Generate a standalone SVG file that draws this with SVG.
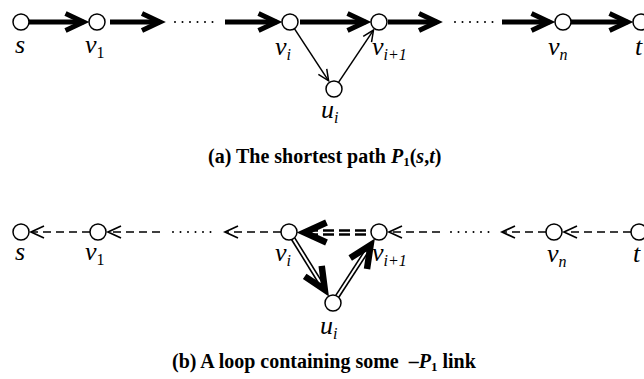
<svg xmlns="http://www.w3.org/2000/svg" width="644" height="379" viewBox="0 0 644 379">
<style>
.n{fill:#fff;stroke:#000;stroke-width:1.5}
.thk{stroke:#000;stroke-width:5;fill:none}
.thin{stroke:#000;stroke-width:1.5;fill:none}
.dsh{stroke:#000;stroke-width:1.7;stroke-dasharray:8 5;fill:none}
.dot{stroke:#000;stroke-width:2;stroke-linecap:round;stroke-dasharray:0 7.5;fill:none}
.dblB{stroke:#000;stroke-width:5.2;fill:none}
.dblD{stroke:#000;stroke-width:6.5;fill:none;stroke-dasharray:11 5;stroke-dashoffset:11}
.dblW{stroke:#fff;stroke-width:2;fill:none}
.dblW2{stroke:#fff;stroke-width:1.5;fill:none}
.lbl{font-family:"Liberation Serif","Times New Roman",serif;font-style:italic;font-size:26px}
.sub{font-size:16px}
.up{font-style:normal}
.cap{font-family:"Liberation Serif","Times New Roman",serif;font-weight:bold;font-size:20px;white-space:pre}
.it{font-style:italic}
</style>
<defs>
<marker id="mT" markerUnits="userSpaceOnUse" viewBox="-26 -14 32 28" markerWidth="32" markerHeight="28" refX="0" refY="0" orient="auto" overflow="visible">
<path d="M-18,-8.5 L0,0 L-18,8.5" fill="none" stroke="#000" stroke-width="5" stroke-dasharray="none"/>
</marker>
<marker id="mB" markerUnits="userSpaceOnUse" viewBox="-30 -16 40 32" markerWidth="40" markerHeight="32" refX="0" refY="0" orient="auto" overflow="visible">
<path d="M-22,-10 L0,0 L-22,10" fill="none" stroke="#000" stroke-width="6.5" stroke-dasharray="none"/>
</marker>
<marker id="mS" markerUnits="userSpaceOnUse" viewBox="-14 -8 18 16" markerWidth="18" markerHeight="16" refX="0" refY="0" orient="auto" overflow="visible">
<path d="M-11,-5 L0,0 L-11,5" fill="none" stroke="#000" stroke-width="1.5" stroke-dasharray="none"/>
</marker>
<marker id="mD" markerUnits="userSpaceOnUse" viewBox="-16 -9 20 18" markerWidth="20" markerHeight="18" refX="0" refY="0" orient="auto" overflow="visible">
<path d="M-13,-6 L0,0 L-13,6" fill="none" stroke="#000" stroke-width="1.7" stroke-dasharray="none"/>
</marker>
</defs>
<rect width="644" height="379" fill="#fff"/>

<g id="connectors">
<!-- (a) shortest path -->
<path class="thk" d="M29,22 H83.5" marker-end="url(#mT)"/>
<path class="thk" d="M110,22 H160" marker-end="url(#mT)"/>
<path class="dot" d="M175,22 H213"/>
<path class="thk" d="M225,22 H276.5" marker-end="url(#mT)"/>
<path class="thk" d="M300,22 H365.5" marker-end="url(#mT)"/>
<path class="thk" d="M388,22 H437" marker-end="url(#mT)"/>
<path class="dot" d="M455,22 H493"/>
<path class="thk" d="M502,22 H549.5" marker-end="url(#mT)"/>
<path class="thk" d="M571,22 H627.5" marker-end="url(#mT)"/>
<path class="thin" d="M294.4,28.7 L328.6,80.8" marker-end="url(#mS)"/>
<path class="thin" d="M338.5,82.4 L373.5,30.1" marker-end="url(#mS)"/>
<!-- (b) loop -->
<path class="dsh" d="M90,232 H31" marker-end="url(#mD)"/>
<path class="dsh" d="M160,232 H108" marker-end="url(#mD)"/>
<path class="dot" d="M173,232 H211"/>
<path class="dsh" d="M281,232 H225" marker-end="url(#mD)"/>
<path class="dblD" d="M371,232.5 H304.5"/>
<path class="dblW2" d="M371,232.5 H304.5" marker-end="url(#mB)"/>
<path class="dblB" d="M293.2,238.8 L324.8,289.8"/>
<path class="dblW" d="M293.2,238.8 L324.8,289.8" marker-end="url(#mB)"/>
<path class="dblB" d="M337.3,296.3 L370.6,245"/>
<path class="dblW" d="M337.3,296.3 L370.6,245" marker-end="url(#mB)"/>
<path class="dsh" d="M440,232 H389" marker-end="url(#mD)"/>
<path class="dot" d="M451,232 H489"/>
<path class="dsh" d="M546,232 H502" marker-end="url(#mD)"/>
<path class="dsh" d="M631,232 H564" marker-end="url(#mD)"/>
</g>

<!-- (a) nodes -->
<g id="a_s"><circle class="n" cx="21" cy="22" r="8"/><text class="lbl" x="15" y="53">s</text></g>
<g id="a_v1"><circle class="n" cx="97" cy="22" r="8"/><text class="lbl" x="85" y="53">v<tspan class="sub up" dy="5">1</tspan></text></g>
<g id="a_vi"><circle class="n" cx="290" cy="22" r="8"/><text class="lbl" x="275" y="55">v<tspan class="sub" dy="5">i</tspan></text></g>
<g id="a_vi1"><circle class="n" cx="379" cy="22" r="8"/><text class="lbl" x="372" y="55">v<tspan class="sub" dy="5">i+1</tspan></text></g>
<g id="a_ui"><circle class="n" cx="334" cy="89" r="8"/><text class="lbl" x="321" y="118">u<tspan class="sub" dy="5">i</tspan></text></g>
<g id="a_vn"><circle class="n" cx="563" cy="22" r="8"/><text class="lbl" x="548" y="55">v<tspan class="sub" dy="5">n</tspan></text></g>
<g id="a_t"><circle class="n" cx="641" cy="22" r="8"/><text class="lbl" x="635" y="55">t</text></g>

<!-- (b) nodes -->
<g id="b_s"><circle class="n" cx="21" cy="232" r="8"/><text class="lbl" x="15" y="260">s</text></g>
<g id="b_v1"><circle class="n" cx="98" cy="232" r="8"/><text class="lbl" x="85" y="260">v<tspan class="sub up" dy="5">1</tspan></text></g>
<g id="b_vi"><circle class="n" cx="289" cy="232" r="8"/><text class="lbl" x="275" y="261">v<tspan class="sub" dy="5">i</tspan></text></g>
<g id="b_vi1"><circle class="n" cx="379" cy="232" r="8"/><text class="lbl" x="372" y="261">v<tspan class="sub" dy="5">i+1</tspan></text></g>
<g id="b_ui"><circle class="n" cx="333" cy="303" r="8"/><text class="lbl" x="320" y="334">u<tspan class="sub" dy="5">i</tspan></text></g>
<g id="b_vn"><circle class="n" cx="554" cy="232" r="8"/><text class="lbl" x="547" y="262">v<tspan class="sub" dy="5">n</tspan></text></g>
<g id="b_t"><circle class="n" cx="639" cy="232" r="8"/><text class="lbl" x="633" y="262">t</text></g>

<g id="captions">
<text class="cap" x="208" y="163">(a) The shortest path <tspan class="it">P</tspan><tspan font-size="13" dy="3">1</tspan><tspan dy="-3">(</tspan><tspan class="it">s</tspan>,<tspan class="it">t</tspan>)</text>
<text class="cap" x="172" y="368">(b) A loop containing some  –<tspan class="it">P</tspan><tspan font-size="13" dy="3">1</tspan><tspan dy="-3"> link</tspan></text>
</g>
</svg>
